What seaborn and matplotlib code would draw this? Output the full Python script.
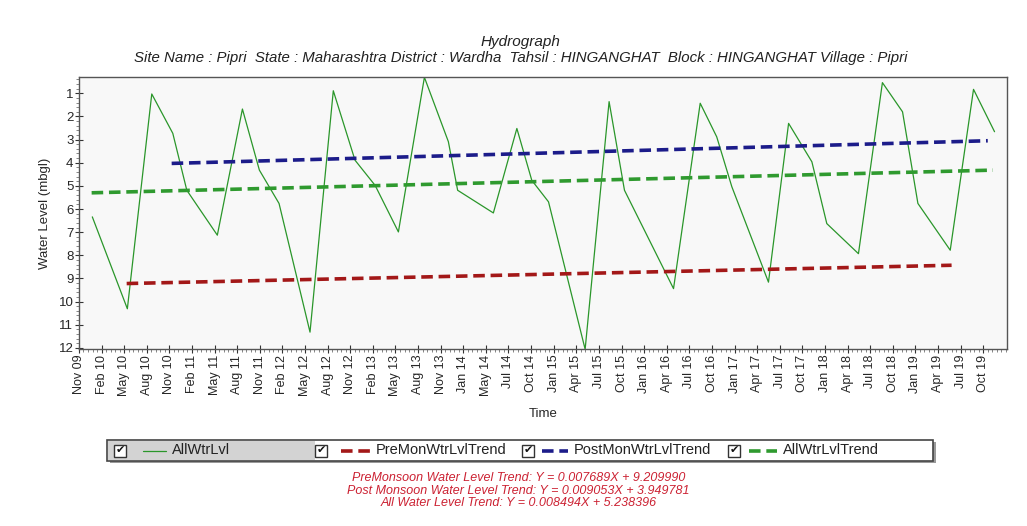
import pandas as pd
import seaborn as sns
import matplotlib.pyplot as plt
from matplotlib.patches import Rectangle
from matplotlib.ticker import MultipleLocator

# x axis labels (one per major tick, evenly spaced)
tick_labels = ["Nov 09", "Feb 10", "May 10", "Aug 10", "Nov 10", "Feb 11", "May 11",
               "Aug 11", "Nov 11", "Feb 12", "May 12", "Aug 12", "Nov 12", "Feb 13",
               "May 13", "Aug 13", "Nov 13", "Jan 14", "May 14", "Jul 14", "Oct 14",
               "Jan 15", "Apr 15", "Jul 15", "Oct 15", "Jan 16", "Apr 16", "Jul 16",
               "Oct 16", "Jan 17", "Apr 17", "Jul 17", "Oct 17", "Jan 18", "Apr 18",
               "Jul 18", "Oct 18", "Jan 19", "Apr 19", "Jul 19", "Oct 19"]

# observations: time (in tick units) and water level (mbgl)
obs_time = [0.59, 2.14, 3.22, 4.15, 4.77, 6.12, 7.23, 7.98, 8.85, 10.22,
            11.25, 12.21, 13.1, 14.13, 15.28, 16.34, 16.75, 18.33, 19.37, 20.03,
            20.77, 22.39, 23.45, 24.13, 26.3, 27.48, 28.21, 28.88, 30.5, 31.39,
            32.42, 33.08, 34.48, 35.54, 36.43, 37.11, 38.54, 39.57, 40.5]
obs_level = [6.34, 10.31, 1.03, 2.73, 5.19, 7.13, 1.68, 4.32, 5.76, 11.32,
             0.89, 3.89, 4.98, 6.99, 0.31, 3.09, 5.19, 6.17, 2.52, 4.76,
             5.69, 12.06, 1.36, 5.19, 9.44, 1.43, 2.88, 5.04, 9.16, 2.30,
             3.96, 6.63, 7.93, 0.54, 1.80, 5.76, 7.78, 0.83, 2.66]

# trend lines (start / end)
trend_names = ["PreMonWtrLvlTrend", "PostMonWtrLvlTrend", "AllWtrLvlTrend"]
trend_t0 = [2.11, 4.1, 0.56]
trend_t1 = [38.6, 40.2, 40.43]
trend_v0 = [9.22, 4.03, 5.30]
trend_v1 = [8.43, 3.05, 4.32]
trend_colors = ["#a31818", "#1c1c8a", "#2f9a2f"]

equations = ["PreMonsoon Water Level Trend: Y = 0.007689X + 9.209990",
             "Post Monsoon Water Level Trend: Y = 0.009053X + 3.949781",
             "All Water Level Trend: Y = 0.008494X + 5.238396"]

sns.set_style("white")
plt.rcParams["font.family"] = ["Liberation Sans", "DejaVu Sans"]

fig = plt.figure(figsize=(10.27, 5.26), dpi=100)
ax = fig.add_axes([0.0769, 0.336, 0.9036, 0.517])
ax.set_facecolor("#f8f8f8")

obs = pd.DataFrame({"time": obs_time, "level": obs_level})
sns.lineplot(data=obs, x="time", y="level", ax=ax, color="#2a962a", lw=0.9,
             sort=False, estimator=None)

for i in range(len(trend_names)):
    tr = pd.DataFrame({"time": [trend_t0[i], trend_t1[i]],
                       "level": [trend_v0[i], trend_v1[i]]})
    sns.lineplot(data=tr, x="time", y="level", ax=ax, color=trend_colors[i],
                 lw=2.6, dashes=(3.2, 1.6), sort=False, estimator=None)

ax.set_xlim(0, 41.05)
ax.set_ylim(12.06, 0.31)
ax.set_xticks(range(len(tick_labels)))
ax.set_xticklabels(tick_labels, rotation=90, fontsize=9)
ax.set_yticks(range(1, 13))
ax.set_yticklabels([str(v) for v in range(1, 13)], fontsize=9.5)
ax.xaxis.set_minor_locator(MultipleLocator(0.2))
ax.yaxis.set_minor_locator(MultipleLocator(0.2))
ax.tick_params(axis="both", which="major", direction="inout", length=6, width=0.8,
               color="#333333", pad=1)
ax.tick_params(axis="both", which="minor", direction="out", length=2, width=0.5,
               color="#555555")
ax.tick_params(axis="x", which="both", bottom=True)
ax.tick_params(axis="y", which="both", left=True)
for s in ax.spines.values():
    s.set_color("#555555")
    s.set_linewidth(1.0)

ax.set_xlabel("Time", fontsize=9.5)
ax.set_ylabel("Water Level (mbgl)", fontsize=9.5)
ax.xaxis.set_label_coords(0.5, -0.215)
ax.yaxis.set_label_coords(-0.03, 0.5)

fig.text(0.507, 0.921, "Hydrograph", ha="center", va="center", fontsize=11,
         style="italic", color="#222222")
fig.text(0.507, 0.889,
         "Site Name : Pipri  State : Maharashtra District : Wardha  Tahsil : HINGANGHAT  Block : HINGANGHAT Village : Pipri",
         ha="center", va="center", fontsize=10.8, style="italic", color="#222222")

# legend box
lax = fig.add_axes([107 / 1027, 1 - 461 / 526, 826 / 1027, 21 / 526])
lax.set_xlim(0, 826)
lax.set_ylim(0, 21)
lax.axis("off")
lax.add_patch(Rectangle((3, -2), 826, 21, facecolor="#9a9a9a", edgecolor="none",
                        clip_on=False))
lax.add_patch(Rectangle((0, 0), 826, 21, facecolor="white", edgecolor="#444444",
                        lw=1.2, clip_on=False))
lax.add_patch(Rectangle((0.6, 0.6), 207, 19.8, facecolor="#d3d3d3", edgecolor="none"))

cb_x = [13, 214, 421, 627]
sample_x = [(36, 59), (234, 263), (435, 461), (642, 670)]
text_x = [65, 269, 467, 676]
item_names = ["AllWtrLvl"] + trend_names
item_colors = ["#2a962a"] + trend_colors
for k in range(4):
    lax.add_patch(Rectangle((cb_x[k] - 6, 4.5), 12, 12, facecolor="white",
                            edgecolor="#333333", lw=1.0))
    lax.text(cb_x[k], 10.5, "\u2714", ha="center", va="center", fontsize=8,
             family="DejaVu Sans", color="#111111")
    if k == 0:
        lax.plot(sample_x[k], [10.5, 10.5], color=item_colors[k], lw=0.9)
    else:
        lax.plot(sample_x[k], [10.5, 10.5], color=item_colors[k], lw=2.6,
                 dashes=(3.2, 1.6))
    lax.text(text_x[k], 10.5, item_names[k], ha="left", va="center", fontsize=10.5,
             color="#222222")

for j, eq in enumerate(equations):
    fig.text(0.505, 1 - (478 + 12.5 * j) / 526, eq, ha="center", va="center",
             fontsize=9, style="italic", color="#cc2233")

plt.savefig("out.png", dpi=100)
